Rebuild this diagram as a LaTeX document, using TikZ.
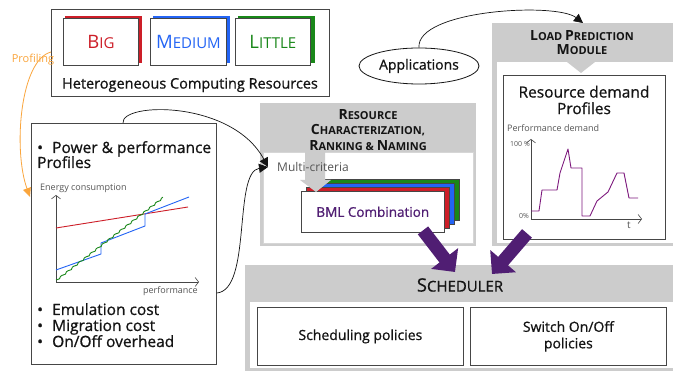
\documentclass[tikz,border=0pt]{standalone}
\usepackage{fontspec}
\setmainfont{Open Sans}[UprightFeatures={FakeBold=0.8}]
\newfontfamily\thinfont{Open Sans}
\usetikzlibrary{arrows.meta,calc,shapes.geometric}

\definecolor{hdrgray}{RGB}{204,204,204}
\definecolor{framegray}{RGB}{214,214,214}
\definecolor{darkframe}{RGB}{70,70,70}
\definecolor{bigred}{RGB}{205,30,40}
\definecolor{medblue}{RGB}{35,100,245}
\definecolor{litgreen}{RGB}{25,135,25}
\definecolor{bmlpurple}{RGB}{80,30,115}
\definecolor{curvepurple}{RGB}{125,25,125}
\definecolor{proforange}{RGB}{250,165,60}
\definecolor{labelgray}{RGB}{85,85,85}
\definecolor{inkblack}{RGB}{20,20,20}

% font size helper and fake small capitals
\newcommand\fs[2]{\fontsize{#1}{#2}\selectfont}
\newcommand\capbig{14}
\newcommand\capsmall{11}
\newcommand\sccap[2]{{\fontsize{\capbig}{\capbig}\selectfont#1}{\fontsize{\capsmall}{\capsmall}\selectfont#2}}

\tikzset{
  panel/.style={fill=hdrgray, draw=none, anchor=north west, inner sep=0pt},
  panelin/.style={fill=white, draw=framegray, line width=0.6pt, anchor=north west, inner sep=0pt},
  frame/.style={draw=darkframe, line width=0.8pt, fill=white, anchor=north west, inner sep=0pt},
  card/.style={draw=darkframe, line width=0.8pt, fill=white, anchor=north west, inner sep=0pt,
    minimum width=75pt, minimum height=47pt},
  cardshadow/.style={anchor=north west, inner sep=0pt, minimum width=77pt, minimum height=47pt},
  stackcard/.style={draw=darkframe, line width=0.6pt, anchor=north west, inner sep=0pt,
    minimum width=143pt, minimum height=41pt},
  txt/.style={text=inkblack, inner sep=0pt},
  bullettxt/.style={txt, anchor=base west, font=\fs{15.5}{18}},
  axis/.style={draw=darkframe, line width=0.6pt, -{Straight Barb[length=3.5pt,width=9pt]}},
  smalllabel/.style={text=labelgray, inner sep=0pt, font=\thinfont\fs{9}{11}},
  blockarrow/.style={draw=bmlpurple, line width=13pt, -{Triangle[length=17pt,width=33pt]}},
  link/.style={draw=inkblack, line width=0.7pt, -{Triangle[length=9pt,width=9pt]}},
}

\begin{document}
\begin{tikzpicture}[x=1pt,y=-1pt]
\useasboundingbox (0,0) rectangle (673,371);
\fill[white] (0,0) rectangle (673,371);

% ---------- heterogeneous computing resources ----------
\node[frame, minimum width=278pt, minimum height=87pt] (hcr) at (51,9) {};
\node[cardshadow, fill=bigred] (bigsh) at (65,16) {};
\node[card, text=bigred] (big) at (63,18) {\thinfont\def\capbig{18.5}\def\capsmall{15}\sccap{B}{IG}};
\node[cardshadow, fill=medblue] (medsh) at (153,16) {};
\node[card, minimum width=76pt, text=medblue] (med) at (150,18) {\thinfont\def\capbig{18.5}\def\capsmall{15}\sccap{M}{EDIUM}};
\node[cardshadow, fill=litgreen] (litsh) at (238,16) {};
\node[card, text=litgreen] (lit) at (235,18) {\thinfont\def\capbig{18.5}\def\capsmall{15}\sccap{L}{ITTLE}};
\node[txt, font=\fs{14.5}{17}] (hcrlabel) at (190,85) {Heterogeneous Computing Resources};

% ---------- profiling ----------
\node[text=proforange, inner sep=0pt, font=\thinfont\fs{11}{13}] (proflabel) at (33,60) {Profiling};

% ---------- power / performance profile box ----------
\node[frame, minimum width=185pt, minimum height=241pt] (prof) at (31,123) {};
\node[bullettxt] (pp1) at (37,153) {\makebox[15pt][l]{•}Power \& performance};
\node[bullettxt] (pp2) at (37,168) {Profiles};
\node[bullettxt] (em) at (37,315) {\makebox[15pt][l]{•}Emulation cost};
\node[bullettxt] (mig) at (37,331) {\makebox[15pt][l]{•}Migration cost};
\node[bullettxt] (onoff) at (37,347) {\makebox[15pt][l]{•}On/Off overhead};

% energy versus performance chart
\node[smalllabel, anchor=west] (elabel) at (40,188) {Energy consumption};
\node[smalllabel, anchor=east] (plabel) at (198,291) {performance};
\draw[axis] (56,282) -- (56,195);
\draw[axis] (56,282) -- (199,282);
\draw[bigred, line width=0.9pt] (56,228) -- (188,207);
\draw[medblue, line width=0.9pt] (56,270) -- (101,254) -- (101,243) -- (145,226) -- (145,214) -- (189,197);
\draw[litgreen, line width=0.9pt, line join=round] (56,280)
  \foreach \i in {1,...,18} { -- ++(3.5,-1.2) -- ++(1,-2.4) -- ++(1.44,-1) };

% ---------- resource characterization ----------
\node[panel, minimum width=216pt, minimum height=143pt] (rc) at (260,103) {};
\node[panelin, minimum width=210pt, minimum height=91pt] (rcin) at (263,152) {};
\node[txt, align=center, font=\bfseries\fs{11}{15.5}] (rctitle) at (368,130)
  {\sccap{R}{ESOURCE}\\ \sccap{C}{HARACTERIZATION,}\\ \sccap{R}{ANKING} \sccap{}{\&} \sccap{N}{AMING}};
\node[stackcard, fill=litgreen] (bmlg) at (316,179) {};
\node[stackcard, fill=medblue] (bmlb) at (311,183) {};
\node[stackcard, fill=bigred] (bmlr) at (306,187) {};
\node[stackcard, draw=darkframe, fill=white, text=bmlpurple, font=\fs{13.5}{16}] (bml) at (301,191) {BML Combination};
\draw[fill=hdrgray, draw=none] (305,152) -- (325,152) -- (325,180) -- (331,180) -- (316,192) -- (300,180) -- (305,180) -- cycle;
\node[text=labelgray, inner xsep=9pt, inner ysep=0pt, anchor=west, font=\thinfont\fs{12}{14}] (mc) at (268,167) {Multi-criteria};

% ---------- applications ----------
\node[draw=inkblack, line width=0.8pt, ellipse, minimum width=120pt, minimum height=36pt, inner sep=0pt,
  text=inkblack, font=\fs{14}{16}] (apps) at (419,66) {Applications};

% ---------- load prediction module ----------
\node[panel, minimum width=181pt, minimum height=223pt] (lpm) at (492,23) {};
\node[panelin, draw=none, minimum width=176pt, minimum height=181pt] (lpmin) at (497,62) {};
\node[txt, align=center, font=\bfseries\fs{11}{14}] (lpmtitle) at (582,43)
  {\sccap{L}{OAD} \sccap{P}{REDICTION}\\ \sccap{M}{ODULE}};
\draw[fill=hdrgray, draw=none] (567,62) -- (595,62) -- (581,73) -- cycle;
\node[frame, minimum width=162pt, minimum height=164pt] (rdp) at (503,75) {};
\node[txt, align=center, font=\fs{15.5}{16.5}] (rdptitle) at (584,100) {Resource demand\\Profiles};

% performance demand chart
\node[smalllabel, anchor=west] (pdlabel) at (507,128) {Performance demand};
\node[smalllabel, anchor=east, font=\thinfont\fs{7}{9}] (hundred) at (530,144) {100 \%};
\node[smalllabel, anchor=east, font=\thinfont\fs{7}{9}] (zero) at (529,216) {0\%};
\node[smalllabel, font=\thinfont\fs{10}{11}] (tlabel) at (629,225) {t};
\draw[axis] (531,219) -- (531,139);
\draw[axis] (531,219) -- (642,219);
\draw[curvepurple, line width=0.9pt, line join=round]
  (531,211) -- (539,211) -- (542,190) -- (557,190) -- (560,173) -- (568,149) -- (571,168) -- (582,168)
  -- (582,216) -- (590,216) -- (597,201) -- (608,192) -- (617,173) -- (624,173) -- (629,198) -- (638,198);

% ---------- scheduler ----------
\node[panel, minimum width=428pt, minimum height=106pt] (sched) at (245,265) {};
\node[panelin, draw=none, minimum width=423pt, minimum height=66pt] (schedin) at (250,302) {};
\node[txt, font=\fs{14.5}{16}] (schedtitle) at (460,285) {\def\capbig{18.5}\def\capsmall{15}\sccap{S}{CHEDULER}};
\node[frame, minimum width=206pt, minimum height=58pt, font=\fs{14}{16}, text=inkblack] (spol) at (257,307) {Scheduling policies};
\node[frame, minimum width=196pt, minimum height=58pt, font=\fs{14}{16.5}, text=inkblack, align=center] (swpol) at (470,307) {Switch On/Off\\policies};

% ---------- connectors ----------
\draw[proforange, line width=0.8pt, -{Triangle[length=9pt,width=8pt]}]
  ($(hcr.north west)+(0,43)$) .. controls (20,60) and (13,150) .. ($(prof.north west)+(-1,74)$);
\draw[link] ($(prof.north west)+(92,0)$) .. controls (121,102) and (232,100) .. (mc.west);
\draw[link] ($(prof.north east)+(0,170)$) .. controls (252,290) and (233,172) .. (mc.west);
\draw[link] (apps.north) .. controls (416,10) and (556,2) .. ($(lpm.north west)+(91,0)$);
\draw[blockarrow] ($(rc.south west)+(163,-16)$) -- ($(sched.north west)+(210,7)$);
\draw[blockarrow] ($(lpm.south west)+(35,-13)$) -- ($(sched.north west)+(247,9)$);
\end{tikzpicture}
\end{document}
